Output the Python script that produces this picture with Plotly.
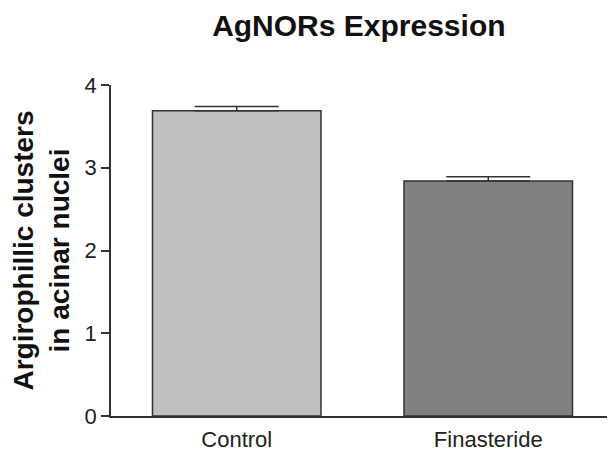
import plotly.graph_objects as go

categories = ["Control", "Finasteride"]
means = [3.69, 2.84]
sem = [0.05, 0.05]
bar_colors = ["#c0c0c0", "#808080"]
y_ticks = [0, 1, 2, 3, 4]

fig = go.Figure()
fig.add_trace(go.Bar(
    x=categories,
    y=means,
    width=0.67,
    marker=dict(color=bar_colors, line=dict(color="#333333", width=1.5)),
    error_y=dict(type="data", array=sem, arrayminus=[0, 0], symmetric=False,
                 color="#333333", thickness=1.5, width=42),
))

# page body has an 8px default margin, so the figure is sized/offset to compensate
fig.update_layout(
    width=607, height=444,
    margin=dict(l=103, r=1, t=77, b=36),
    paper_bgcolor="white", plot_bgcolor="white",
    showlegend=False,
    font=dict(family="Liberation Sans, Arial, sans-serif", color="#222222"),
    title=dict(text="<b>AgNORs Expression</b>", x=0.578, xanchor="center",
               y=0.961, yanchor="middle",
               font=dict(size=30, color="#111111")),
    xaxis=dict(range=[-0.5, 1.5], showline=True, linecolor="#333333", linewidth=1.5,
               ticks="", showgrid=False, zeroline=False, automargin=False,
               ticklabelstandoff=3,
               tickfont=dict(size=22, color="#222222")),
    yaxis=dict(range=[0, 4], tickvals=y_ticks, showline=True, linecolor="#333333",
               linewidth=1.5, ticks="outside", ticklen=8, tickwidth=1.5,
               tickcolor="#333333", showgrid=False, zeroline=False, automargin=False,
               tickfont=dict(size=22, color="#222222"),
               title=dict(text="<b>Argirophillic clusters<br>in acinar nuclei</b>",
                          font=dict(size=28, color="#111111"), standoff=15)),
)

fig.write_html("out.html")
